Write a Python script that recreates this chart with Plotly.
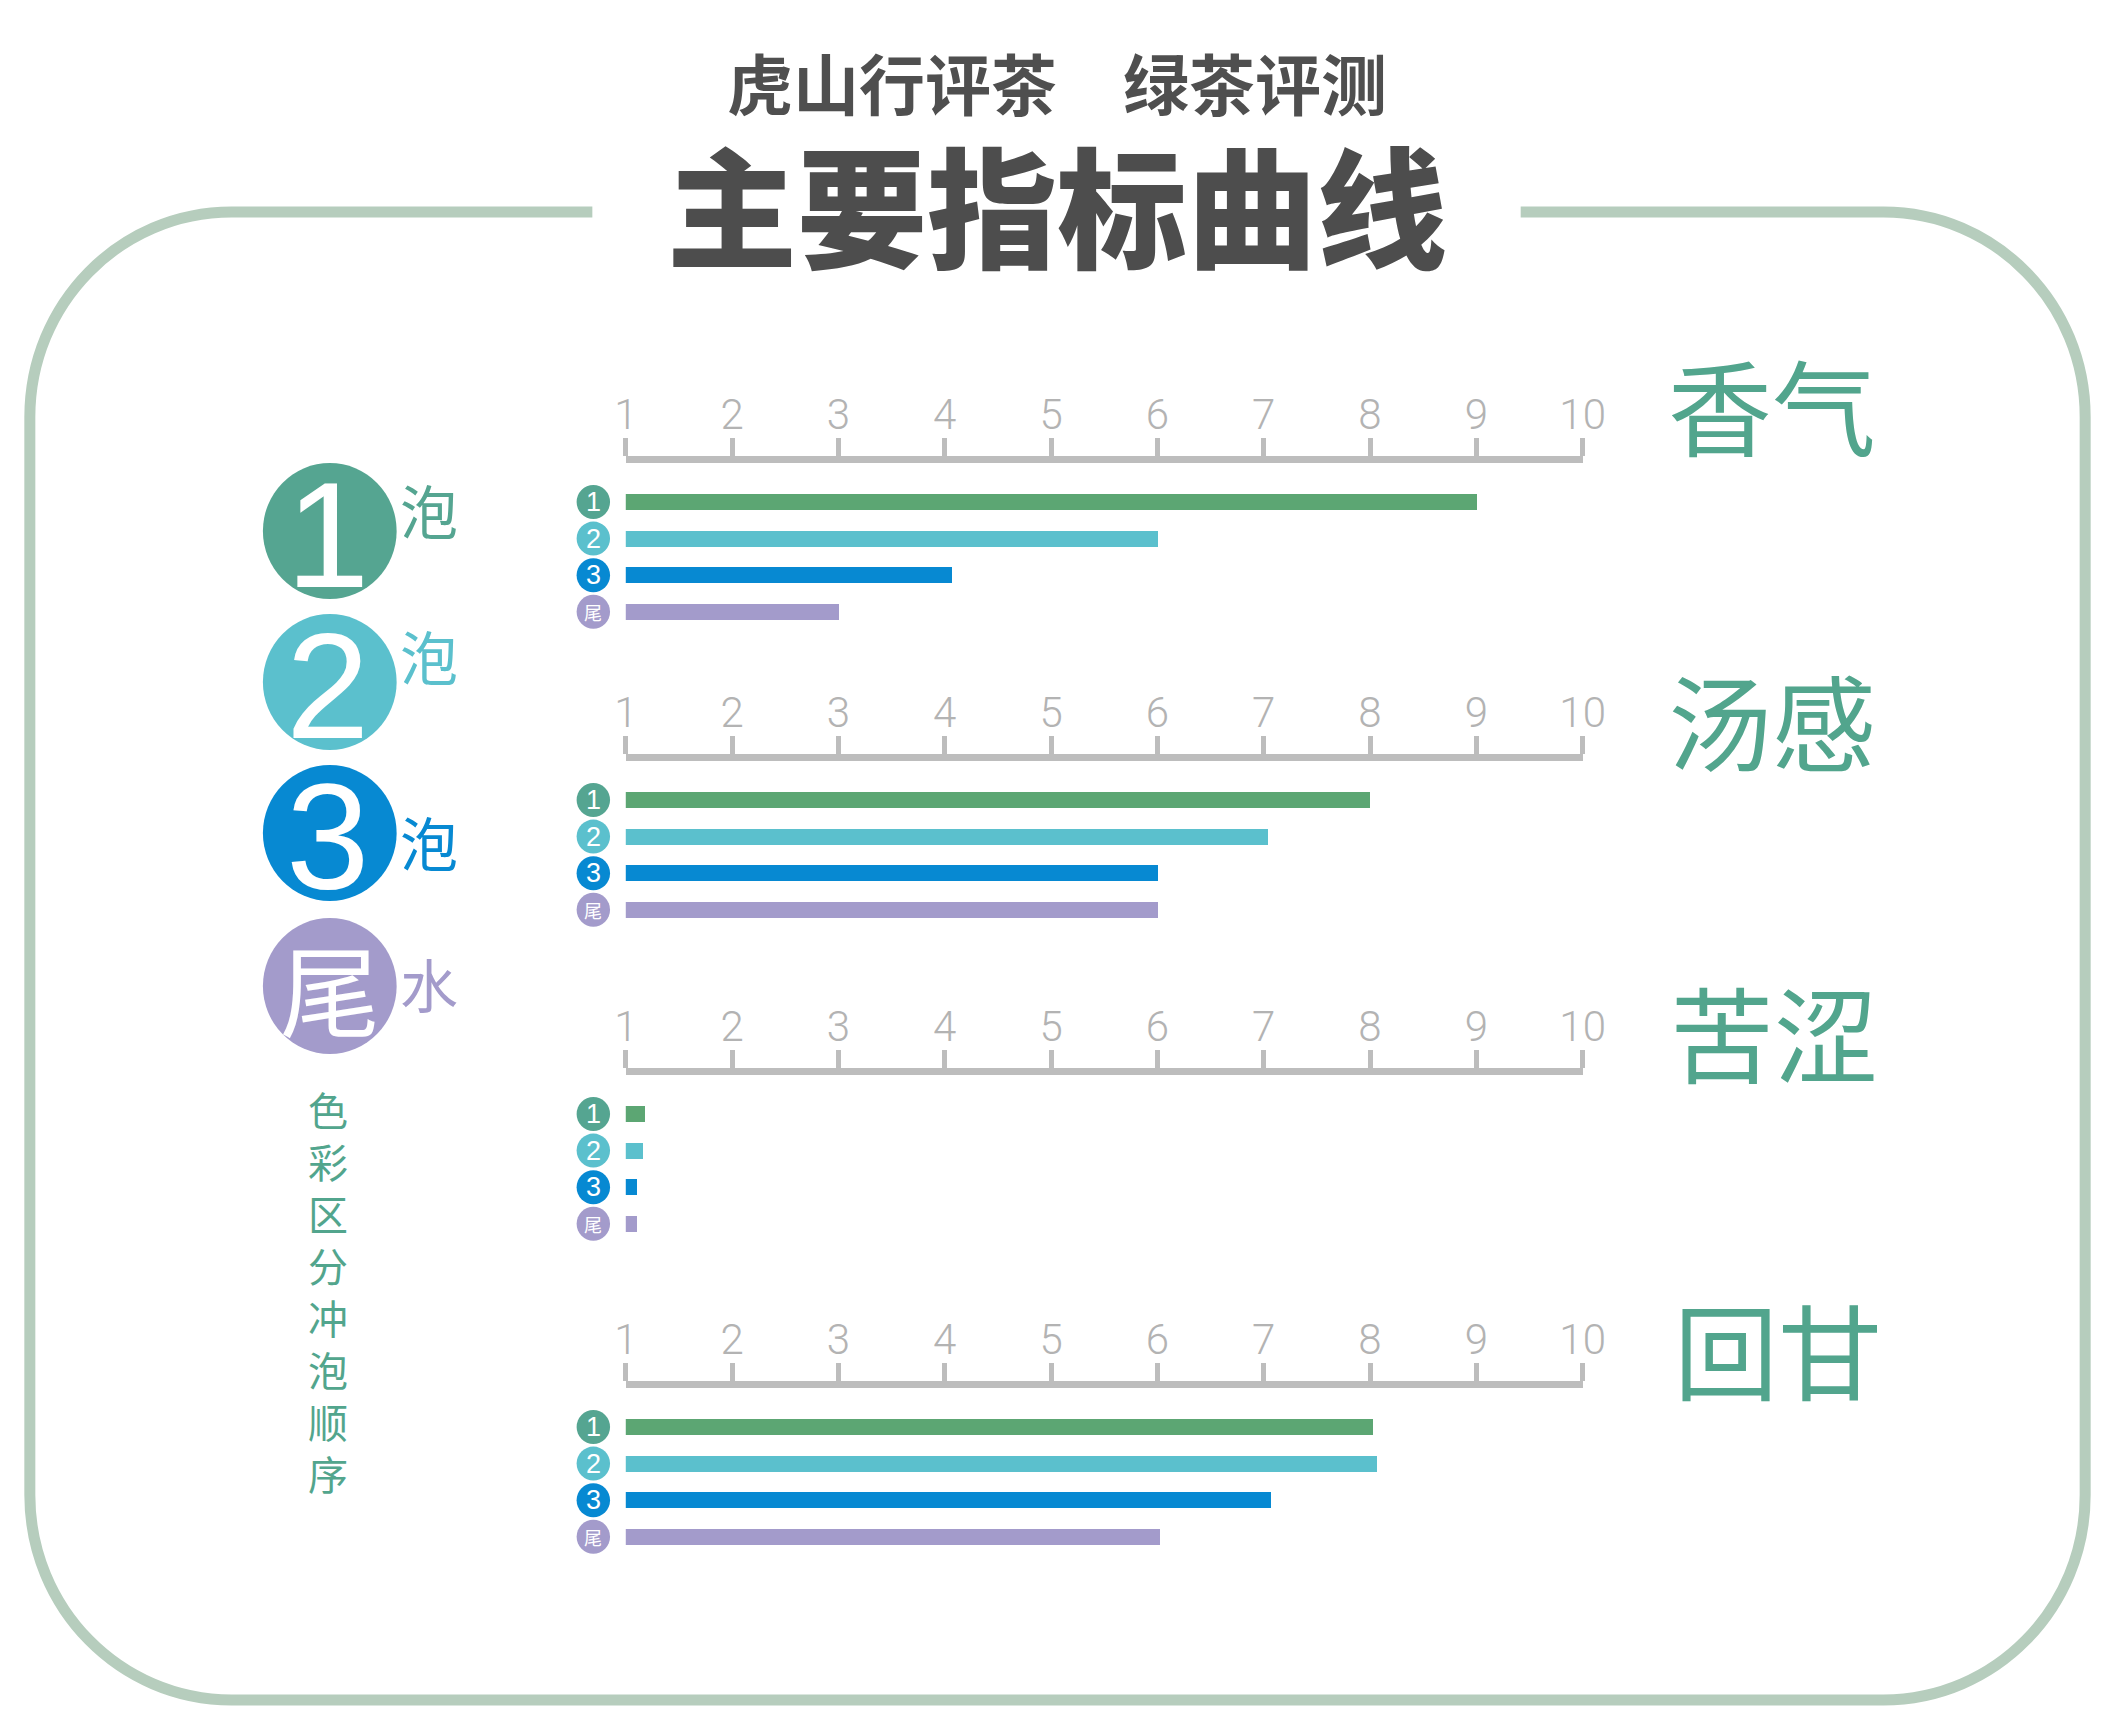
import plotly.graph_objects as go

# ---- data ----
categories = ["香气", "汤感", "苦涩", "回甘"]
rounds = ["1", "2", "3", "尾"]
round1 = [9.0, 8.0, 1.18, 8.03]
round2 = [6.0, 7.04, 1.16, 8.06]
round3 = [4.07, 6.0, 1.10, 7.07]
tail = [3.0, 6.0, 1.10, 6.02]
tick_vals = [1, 2, 3, 4, 5, 6, 7, 8, 9, 10]
legend_side = ["泡", "泡", "泡", "水"]
side_note = "色彩区分冲泡顺序"

# page has an 8px body margin, so the figure is shrunk to fit the window
PAGE_W, PAGE_H, PAD = 2126, 1734, 8
W, H = PAGE_W - 2 * PAD, PAGE_H - 2 * PAD

bar_colors = ["#5ca673", "#5bc0cd", "#0789d2", "#a39bcb"]
dot_colors = ["#55a591", "#5bc0cd", "#0789d2", "#a39bcb"]
label_green = "#52a58d"
axis_grey = "#bdbdbd"


def X(px):
    return (px - PAD) / W


def Y(py):
    return 1 - (py - PAD) / H


# panel geometry (page pixels)
axis_top = [463, 761, 1075, 1388]
x_left, x_right = 624, 1597
bar_offset, bar_step, panel_h = 39, 36.6, 175
y_top = -bar_offset / bar_step
y_bot = y_top + panel_h / bar_step
badge_cx, badge_r = 591, 17

fig = go.Figure()
series = [round1, round2, round3, tail]
shapes = []
annotations = []

for i, cat in enumerate(categories):
    n = "" if i == 0 else str(i + 1)
    vals = [s[i] for s in series]
    fig.add_trace(go.Bar(
        x=vals, y=list(range(4)), orientation="h", width=0.44,
        marker=dict(color=bar_colors, line=dict(width=0)),
        xaxis="x" + n, yaxis="y" + n, showlegend=False,
        hovertemplate=cat + " %{x}<extra></extra>",
    ))
    top = axis_top[i]
    fig.layout["xaxis" + n] = dict(
        domain=[X(x_left), X(x_right)], range=[1, 10], side="top",
        anchor="y" + n, tickvals=tick_vals, ticks="outside", ticklen=18,
        tickwidth=5, tickcolor=axis_grey, showline=True, linewidth=7,
        linecolor=axis_grey, showgrid=False, zeroline=False,
        tickfont=dict(family="Roboto", size=42, color="#b3b3b3", weight=300),
        ticklabelstandoff=-8, fixedrange=True,
    )
    fig.layout["yaxis" + n] = dict(
        domain=[Y(top + panel_h), Y(top)], range=[y_bot, y_top],
        visible=False, fixedrange=True, anchor="x" + n,
    )
    # round badges in front of each bar
    rr = badge_r / bar_step
    for k, lab in enumerate(rounds):
        shapes.append(dict(type="circle", xref="paper", yref="y" + n,
                           x0=X(badge_cx - badge_r), x1=X(badge_cx + badge_r),
                           y0=k - rr, y1=k + rr, fillcolor=dot_colors[k],
                           line=dict(width=0)))
        annotations.append(dict(
            text=lab, xref="paper", yref="y" + n, x=X(badge_cx), y=k,
            showarrow=False, xanchor="center", yanchor="middle",
            font=dict(color="white", size=18 if lab == "尾" else 27,
                      family="Noto Sans CJK SC" if lab == "尾" else "Liberation Sans")))

# rounded frame with a gap for the title
L, T, R, B, rad = 18, 212, 2108, 1700, 205
k = 0.5523 * rad
path = (
    f"M {X(590)},{Y(T)} L {X(L + rad)},{Y(T)} "
    f"C {X(L + rad - k)},{Y(T)} {X(L)},{Y(T + rad - k)} {X(L)},{Y(T + rad)} "
    f"L {X(L)},{Y(B - rad)} "
    f"C {X(L)},{Y(B - rad + k)} {X(L + rad - k)},{Y(B)} {X(L + rad)},{Y(B)} "
    f"L {X(R - rad)},{Y(B)} "
    f"C {X(R - rad + k)},{Y(B)} {X(R)},{Y(B - rad + k)} {X(R)},{Y(B - rad)} "
    f"L {X(R)},{Y(T + rad)} "
    f"C {X(R)},{Y(T + rad - k)} {X(R - rad + k)},{Y(T)} {X(R - rad)},{Y(T)} "
    f"L {X(1534)},{Y(T)}"
)
shapes.append(dict(type="path", path=path, xref="paper", yref="paper",
                   line=dict(color="#b6cdbd", width=11), layer="below"))

# big legend circles
circle_y = [531, 682, 833, 986]
cx, cr = 323, 68
for cy, col in zip(circle_y, dot_colors):
    shapes.append(dict(type="circle", xref="paper", yref="paper",
                       x0=X(cx - cr), x1=X(cx + cr), y0=Y(cy + cr), y1=Y(cy - cr),
                       fillcolor=col, line=dict(width=0), layer="below"))

page_notes = []
side_y = [509, 655, 841, 983]
for j, (cy, col) in enumerate(zip(circle_y, dot_colors)):
    if rounds[j] == "尾":
        page_notes.append(dict(text="尾", x=X(cx), y=Y(cy), showarrow=False,
                               font=dict(family="Noto Sans CJK SC", size=100, color="white")))
    else:
        page_notes.append(dict(text=rounds[j], x=X(cx - 2), y=Y(cy + 4), showarrow=False,
                               font=dict(family="Liberation Sans", size=150, color="white")))
    page_notes.append(dict(text=legend_side[j], x=X(424), y=Y(side_y[j]), showarrow=False,
                           font=dict(family="Noto Sans CJK SC", size=58, color=col)))

# vertical caption, one character per line
page_notes.append(dict(text="<br>".join(side_note), x=X(321), y=Y(1291), showarrow=False,
                       align="center",
                       font=dict(family="Noto Sans CJK SC", size=40, color=label_green)))

# panel titles on the right
title_pos = [(1790, 403), (1790, 718), (1792, 1030), (1796, 1347)]
for cat, (tx, ty) in zip(categories, title_pos):
    page_notes.append(dict(text=cat, x=X(tx), y=Y(ty), showarrow=False,
                           font=dict(family="Noto Sans CJK SC", size=104, color=label_green)))

# headings
page_notes.append(dict(text="虎山行评茶\u3000绿茶评测", x=X(1062), y=Y(81), showarrow=False,
                       font=dict(family="Noto Sans CJK SC", size=66, color="#4f4f4f", weight=700)))
page_notes.append(dict(text="主要指标曲线", x=X(1062), y=Y(201), showarrow=False,
                       font=dict(family="Noto Sans CJK SC", size=130, color="#4d4d4d", weight=900)))

for a in page_notes:
    a.update(xref="paper", yref="paper", xanchor="center", yanchor="middle")
annotations += page_notes

fig.update_layout(
    width=W, height=H, margin=dict(l=0, r=0, t=0, b=0),
    paper_bgcolor="white", plot_bgcolor="rgba(0,0,0,0)",
    shapes=shapes, annotations=annotations, bargap=0,
    showlegend=False,
)

fig.write_html("out.html")
